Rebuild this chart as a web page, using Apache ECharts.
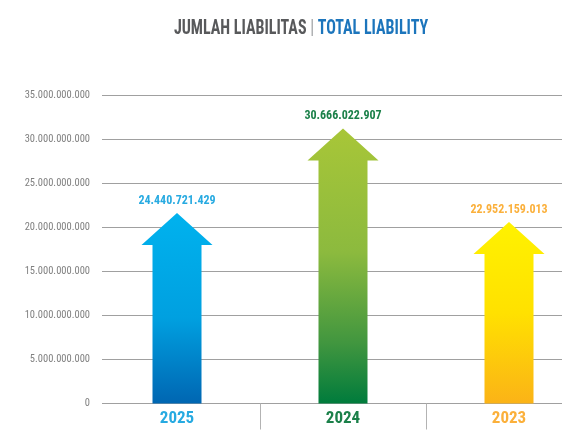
<!DOCTYPE html>
<html>
<head>
<meta charset="utf-8">
<script src="https://cdn.jsdelivr.net/npm/echarts@6/dist/echarts.min.js"></script>
<style>
  html, body { margin: 0; padding: 0; background: #fff; }
  #chart { width: 562px; height: 430px; }
</style>
</head>
<body>
<div id="chart"></div>
<script>
// tahun (urutan seperti di gambar)
var years = ['2025', '2024', '2023'];
// nilai yang tertulis di atas panah
var liabilities = [24440721429, 30666022907, 22952159013];
// tinggi ujung panah seperti digambar
var arrowTops = [21.6e9, 31.2e9, 20.6e9];
var yTicks = [0, 5e9, 10e9, 15e9, 20e9, 25e9, 30e9, 35e9];

var labelColors = ['#27aae1', '#1b8049', '#fbb03b'];
var gradients = [
  [['0', '#00b2ee'], ['0.55', '#00a0e0'], ['1', '#0066b2']],
  [['0', '#a8c638'], ['0.45', '#8cba3e'], ['0.78', '#41963f'], ['1', '#007b3c']],
  [['0', '#fff200'], ['0.5', '#ffe100'], ['1', '#fbb317']]
];

function fmt(v) {
  return String(v).replace(/\B(?=(\d{3})+(?!\d))/g, '.');
}

var cond = '"Roboto Condensed", "Open Sans Condensed", sans-serif';

var chart = echarts.init(document.getElementById('chart'));

var option = {
  animation: false,
  graphic: [{
    type: 'text',
    x: 301,
    y: 29,
    scaleX: 0.8,
    style: {
      text: '{a|JUMLAH LIABILITAS} {s||} {b|TOTAL LIABILITY}',
      align: 'center',
      verticalAlign: 'middle',
      font: 'bold 20px ' + cond,
      rich: {
        a: { fill: '#58595b', fontSize: 20, fontWeight: 'bold', fontFamily: cond },
        s: { fill: '#9d9fa2', fontSize: 20, fontWeight: 'normal', fontFamily: cond },
        b: { fill: '#1c75bc', fontSize: 20, fontWeight: 'bold', fontFamily: cond }
      }
    }
  }],
  grid: [
    { left: 102, right: 0, top: 95, bottom: 26.5, outerBoundsMode: 'none' },
    { left: 94, width: 498, top: 95, bottom: 26.5, outerBoundsMode: 'none' }
  ],
  xAxis: [{
    gridIndex: 0,
    type: 'value',
    min: 0,
    max: 1,
    show: false
  }, {
    gridIndex: 1,
    type: 'category',
    data: years,
    axisLine: { show: false },
    axisTick: {
      show: true,
      length: 26,
      interval: function (index) { return index > 0; },
      lineStyle: { color: '#b3b3b3' }
    },
    axisLabel: {
      margin: 7,
      fontFamily: cond,
      fontWeight: 'bold',
      fontSize: 17,
      color: function (value) { return labelColors[years.indexOf(value)]; }
    }
  }],
  yAxis: [{
    gridIndex: 0,
    type: 'value',
    min: yTicks[0],
    max: yTicks[yTicks.length - 1],
    interval: yTicks[1] - yTicks[0],
    axisLine: { show: false },
    axisTick: { show: false },
    splitLine: { lineStyle: { color: '#a0a0a0', width: 1 } },
    axisLabel: {
      margin: 12,
      fontFamily: cond,
      fontSize: 10.5,
      color: '#808080',
      formatter: fmt
    }
  }, {
    gridIndex: 1,
    type: 'value',
    min: yTicks[0],
    max: yTicks[yTicks.length - 1],
    show: false
  }],
  series: [{
    type: 'custom',
    xAxisIndex: 1,
    yAxisIndex: 1,
    data: years.map(function (y, i) { return [i, arrowTops[i]]; }),
    renderItem: function (params, api) {
      var i = params.dataIndex;
      var top = api.coord([api.value(0), api.value(1)]);
      var base = api.coord([api.value(0), 0]);
      var cx = top[0];
      var sw = 24.5, hw = 35.5, hh = 32;
      var pts = [
        [cx - sw, base[1]],
        [cx - sw, top[1] + hh],
        [cx - hw, top[1] + hh],
        [cx, top[1]],
        [cx + hw, top[1] + hh],
        [cx + sw, top[1] + hh],
        [cx + sw, base[1]]
      ];
      var stops = gradients[i].map(function (s) { return { offset: +s[0], color: s[1] }; });
      return {
        type: 'group',
        children: [{
          type: 'polygon',
          shape: { points: pts },
          style: { fill: new echarts.graphic.LinearGradient(0, 0, 0, 1, stops) }
        }, {
          type: 'text',
          x: cx,
          y: top[1] - 12,
          style: {
            text: fmt(liabilities[i]),
            fill: labelColors[i],
            font: 'bold 12px ' + cond,
            align: 'center',
            verticalAlign: 'middle'
          }
        }]
      };
    }
  }]
};

chart.setOption(option);
</script>
</body>
</html>
